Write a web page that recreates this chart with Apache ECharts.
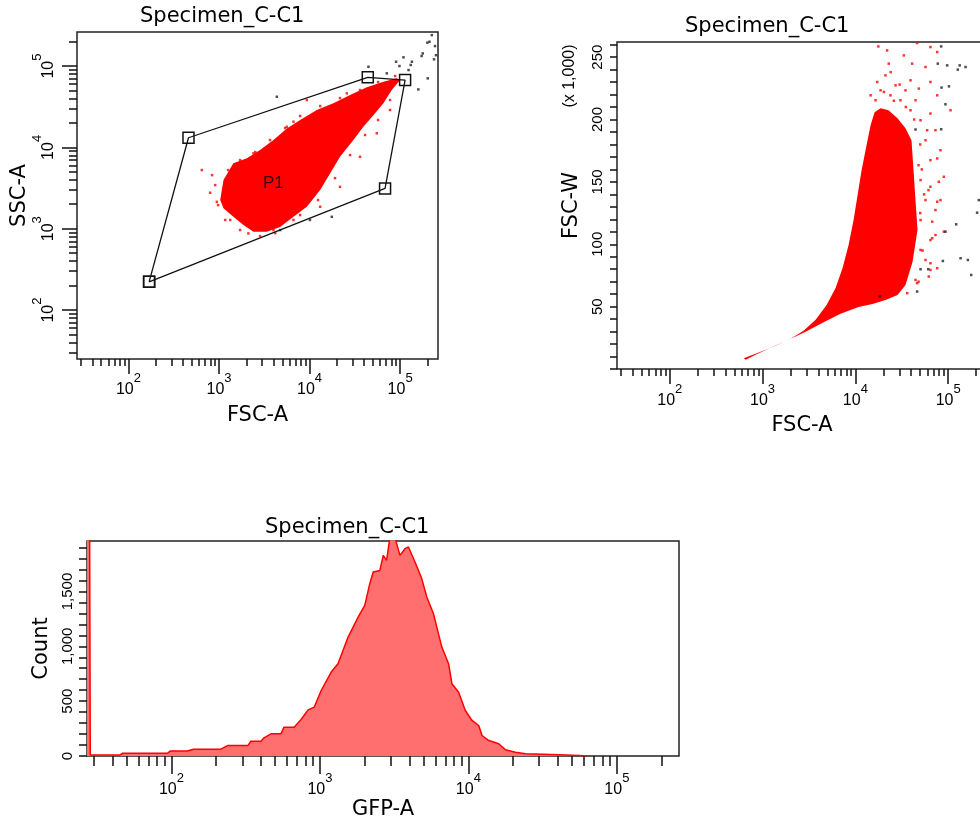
<!DOCTYPE html>
<html>
<head>
<meta charset="utf-8">
<title>Specimen_C-C1</title>
<script src="https://cdn.jsdelivr.net/npm/echarts@6.0.0/dist/echarts.min.js"></script>
<style>
  html, body { margin: 0; padding: 0; background: #fff; }
  #chart-facs { width: 980px; height: 825px; }
</style>
</head>
<body>
<div id="chart-facs"></div>
<script>
// ============================================================
// 数据
// ============================================================

var TITLE_TEXT = 'Specimen_C-C1';

// 对数轴范围与刻度
var LOG_MIN_X = 27;
var LOG_MIN_Y = 25;
var LOG_MAX = 262144;
var DECADE_TICKS = [100, 1000, 10000, 100000];
var MINOR_TICKS = [30, 40, 50, 60, 70, 80, 90,
  200, 300, 400, 500, 600, 700, 800, 900,
  2000, 3000, 4000, 5000, 6000, 7000, 8000, 9000,
  20000, 30000, 40000, 50000, 60000, 70000, 80000, 90000,
  200000];

// 图1：FSC-A vs SSC-A，P1 门
var GATE_X = [169, 460, 43950, 113500, 68200, 169];
var GATE_Y = [222, 13130, 72600, 67270, 3130, 222];
var P1_POS = [3980, 3640];

// 图1 密集点云轮廓
var CLOUD1_X = [1030, 1120, 1440, 2030, 2840, 3990, 5610, 7870, 12000, 18300, 28000, 42900, 65400, 91900, 100000,
  80900, 65400, 50700, 39300, 30500, 21700, 16900, 13100, 9330, 6640, 4730, 3370, 2400, 1860, 1440, 1120];
var CLOUD1_Y = [2250, 3960, 6360, 7330, 9270, 12300, 17100, 21700, 28800, 34800, 44000, 54700, 64100, 70600, 67300,
  50700, 34800, 24900, 17900, 12300, 7660, 4790, 2990, 1860, 1400, 1050, 916, 916, 1110, 1400, 1780];

// 图1 稀疏红点 / 门外黑点
var RED1_X = [646, 798, 946, 1330, 2110, 3100, 2400, 5610, 6640, 9330, 25800, 55300, 36100, 21700, 13100, 6640, 3990, 77400, 71300, 88100,
  906, 839, 977, 1260, 1710, 2510, 3660, 5370, 7870, 13100, 21700, 36100, 57100, 77400, 57100, 41000, 28000, 19100, 12400, 7870,
  4170, 2840, 1710, 1170];
var RED1_Y = [5260, 2770, 2140, 1280, 875, 7660, 8440, 17900, 20700, 38200, 46100, 14900, 7660, 3270, 1860, 1280, 962, 28800, 55600, 75300,
  3440, 4560, 1950, 5260, 6980, 8750, 12300, 17300, 24300, 32200, 40400, 50700, 63500, 38200, 21700, 14200, 8030, 4190, 2250, 1470,
  883, 811, 962, 1280];
var BLACK1_X = [224000, 211000, 243000, 200000, 178000, 249000, 237000, 173000, 135000, 109000, 90300, 98300, 131000,
  202000, 159000, 124000, 44700, 4350, 4730, 10100, 17600, 71300];
var BLACK1_Y = [240000, 199000, 176000, 194000, 143000, 136000, 121000, 133000, 113000, 128000, 113000, 100000, 103000,
  70600, 51600, 89300, 98000, 41900, 962, 1280, 1400, 81300];

// 图2：FSC-A vs FSC-W（单位 x 1,000）
var FSCW_MAX = 262.144;
var CLOUD2_X = [627, 955, 1385, 2006, 2767, 3730, 4900, 6120, 7280, 8450, 9570, 10570, 11670, 13200, 14590, 16110,
  18670, 22760, 28450, 34690, 40260, 42350, 44460, 46760, 41300, 34690, 28450, 21130, 15310, 10820, 6930, 4440,
  2910, 1910, 1220, 843, 658];
var CLOUD2_Y = [8.6, 13.8, 18.6, 24.2, 30.6, 39.4, 51.4, 65.0, 81.0, 99.4, 119.4, 139.4, 159.4, 179.4, 195.4, 205.8,
  209.0, 207.4, 201.0, 193.0, 183.4, 159.4, 135.4, 111.4, 85.8, 67.4, 59.4, 55.4, 52.2, 49.8, 44.2, 37.0,
  29.8, 23.4, 17.0, 11.4, 7.4];
var RED2_X = [17700, 46300, 22000, 33300, 64400, 76200, 22900, 40900, 57000, 17200, 39300, 64400, 20300, 48300, 76200,
  106000, 64400, 59400, 76200, 89800, 79300, 64400, 76200, 67300, 89800, 67300, 64400, 76200, 61800, 36200, 46300,
  24000, 30000, 26000, 35000, 43000, 50000, 52000, 55000, 50000, 53000, 48000,
  50400, 57000, 64400, 50400, 57000, 50400, 64400, 57000, 44500, 73000, 73000, 82600, 39300, 44500, 34700, 30600,
  27100, 23900, 21100, 18700, 16500, 14600, 64400, 50400, 73000, 61400, 47900, 82600];
var RED2_Y = [258.6, 261.3, 255.4, 251.4, 258.1, 254.1, 244.8, 244.8, 242.1, 230.1, 231.4, 230.1, 222.1, 224.8, 219.4,
  207.4, 204.8, 191.4, 168.8, 154.1, 150.1, 146.1, 134.1, 118.1, 110.1, 104.8, 84.8, 80.8, 74.1, 60.8, 68.8,
  238, 228, 215, 210, 200, 180, 160, 140, 125, 95, 70,
  199.4, 183.4, 167.4, 151.4, 135.4, 119.4, 103.4, 87.4, 71.4, 127.4, 191.4, 175.4, 207.4, 215.4, 223.4, 215.4,
  227.4, 219.4, 235.4, 223.4, 215.4, 219.4, 79.4, 95.4, 107.4, 143.4, 163.4, 135.4];
var BLACK2_X = [84100, 77300, 97500, 133000, 154000, 127000, 84800, 102000, 93500, 84100, 44500, 205000, 122000,
  93500, 87700, 136000, 163000, 177000, 50400, 61000, 46300, 18400, 214000];
var BLACK2_Y = [258.6, 244.8, 243.4, 243.4, 242.1, 240, 225.6, 226.6, 212.2, 192.2, 192, 125.3, 116,
  110.1, 86.6, 88.8, 87.4, 75.4, 80, 80, 62.1, 58.1, 135.4];

// 图3：GFP-A 直方图
var COUNT_MAX = 1960;
var HIST_X = [27, 28, 28.4, 45, 47, 94, 98, 128, 141, 215, 239, 327, 343, 401, 420, 468, 547, 573, 670, 747,
  833, 915, 1020, 1192, 1324, 1548, 1809, 2005, 2167, 2285, 2534, 2672, 2813, 2960, 3202, 3462, 3743, 3946, 4369, 4851,
  5245, 5821, 6128, 6626, 7355, 7745, 8596, 9535, 10580, 11738, 12362, 13715, 16024, 17776, 20777, 24283, 40840, 55800, 63500];
var HIST_Y = [3000, 3000, 10, 10, 25, 25, 45, 45, 62, 62, 95, 95, 135, 135, 166, 202, 202, 263, 263, 333,
  420, 445, 597, 765, 841, 1084, 1266, 1373, 1571, 1677, 1692, 1829, 1784, 1990, 1990, 1829, 1890, 1905, 1768, 1617,
  1449, 1297, 1175, 993, 841, 659, 582, 415, 324, 278, 187, 141, 111, 57, 35, 20, 11, 5, 0];

// ============================================================
// 样式
// ============================================================

var FONT_TEXT = 'DejaVu Sans';
var FONT_TICK = 'Liberation Sans';
var INK = '#111';
var RED = '#ff0000';

var TITLE_STYLE = { fontFamily: FONT_TEXT, fontSize: 21, fontWeight: 'normal', color: '#000' };
var NAME_STYLE = { fontFamily: FONT_TEXT, fontSize: 21, color: '#000' };
var TICK_LABEL = { fontFamily: FONT_TICK, fontSize: 15, color: '#000' };

var DECADE_RICH = {
  b: { fontFamily: FONT_TICK, fontSize: 16, lineHeight: 36, color: '#000' },
  s: { fontFamily: FONT_TICK, fontSize: 13, lineHeight: 13, verticalAlign: 'top', color: '#000' }
};

function decadeLabel(value) {
  var p = Math.round(Math.log10(value));
  return '{b|10}{s|' + p + '}';
}

function zip(xs, ys) {
  return xs.map(function(x, i) { return [x, ys[i]]; });
}

// 一对对数轴：短刻度 + 十进位长刻度（带标签和轴名）
function logAxisPair(gridIndex, min, cfg) {
  var base = {
    type: 'log', logBase: 10, gridIndex: gridIndex, min: min, max: LOG_MAX, position: cfg.position,
    axisLine: { show: false }, splitLine: { show: false }, minorTick: { show: false }
  };
  var minor = Object.assign({}, base, {
    axisTick: { show: true, customValues: MINOR_TICKS, length: cfg.minorLen, lineStyle: { color: INK, width: 1.5 } },
    axisLabel: { show: false }
  });
  var major = Object.assign({}, base, {
    axisTick: { show: true, customValues: DECADE_TICKS, length: cfg.majorLen, lineStyle: { color: INK, width: 1.5 } },
    axisLabel: {
      show: true, customValues: DECADE_TICKS, formatter: decadeLabel, rich: DECADE_RICH,
      fontFamily: FONT_TICK, fontSize: 16, margin: cfg.margin, rotate: cfg.rotate || 0
    },
    name: cfg.name, nameLocation: 'middle', nameGap: cfg.nameGap, nameTextStyle: NAME_STYLE
  });
  return [minor, major];
}

function thousands(v) {
  return String(v).replace(/\B(?=(\d{3})+(?!\d))/g, ',');
}

function cloudSeries(xIndex, yIndex, xs, ys) {
  return {
    type: 'custom', xAxisIndex: xIndex, yAxisIndex: yIndex, silent: true, z: 2,
    data: [[xs[0], ys[0]]],
    renderItem: function(params, api) {
      var points = xs.map(function(x, i) { return api.coord([x, ys[i]]); });
      return { type: 'polygon', shape: { points: points }, style: { fill: RED } };
    }
  };
}

function dotSeries(xIndex, yIndex, xs, ys, color) {
  return {
    type: 'scatter', xAxisIndex: xIndex, yAxisIndex: yIndex, silent: true, z: 3,
    symbol: 'rect', symbolSize: 2.5, data: zip(xs, ys), itemStyle: { color: color }
  };
}

// ============================================================
// 图表
// ============================================================

var gridBase = { show: true, borderColor: '#222', borderWidth: 1.5, backgroundColor: '#fff', outerBoundsMode: 'none' };

var xAxes = []
  .concat(logAxisPair(0, LOG_MIN_X, { position: 'bottom', minorLen: 7, majorLen: 15, margin: 13, name: 'FSC-A', nameGap: 46 }))
  .concat(logAxisPair(1, LOG_MIN_X, { position: 'bottom', minorLen: 7, majorLen: 15, margin: 14, name: 'FSC-A', nameGap: 46 }))
  .concat(logAxisPair(2, LOG_MIN_X, { position: 'bottom', minorLen: 10, majorLen: 18, margin: 16, name: 'GFP-A', nameGap: 40 }));

var yAxes = []
  .concat(logAxisPair(0, LOG_MIN_Y, { position: 'left', minorLen: 8, majorLen: 15, margin: 10, rotate: 90, name: 'SSC-A', nameGap: 45 }))
  .concat([
    {
      type: 'value', gridIndex: 1, min: 0, max: FSCW_MAX, interval: 10, position: 'left',
      axisLine: { show: false }, splitLine: { show: false },
      axisTick: { show: true, length: 7, lineStyle: { color: INK, width: 1.5 } },
      axisLabel: Object.assign({}, TICK_LABEL, {
        rotate: 90, margin: 12, showMaxLabel: false,
        formatter: function(v) { return (v > 0 && v % 50 === 0) ? String(v) : ''; }
      }),
      name: 'FSC-W', nameLocation: 'middle', nameGap: 35, nameTextStyle: NAME_STYLE
    },
    {
      type: 'value', gridIndex: 2, min: 0, max: COUNT_MAX, interval: 100, position: 'left',
      axisLine: { show: false }, splitLine: { show: false },
      axisTick: { show: true, length: 8, lineStyle: { color: INK, width: 1.5 } },
      axisLabel: Object.assign({}, TICK_LABEL, {
        rotate: 90, margin: 12, showMaxLabel: false,
        formatter: function(v) { return v % 500 === 0 ? thousands(v) : ''; }
      }),
      name: 'Count', nameLocation: 'middle', nameGap: 34, nameTextStyle: NAME_STYLE
    }
  ]);

var chart = echarts.init(document.getElementById('chart-facs'), null, { renderer: 'canvas' });

chart.setOption({
  animation: false,
  backgroundColor: '#fff',
  title: [
    { text: TITLE_TEXT, left: 140, top: 6, padding: 0, textStyle: TITLE_STYLE },
    { text: TITLE_TEXT, left: 685, top: 16, padding: 0, textStyle: TITLE_STYLE },
    { text: TITLE_TEXT, left: 265, top: 517, padding: 0, textStyle: TITLE_STYLE }
  ],
  grid: [
    Object.assign({ left: 77, top: 32, width: 361, height: 327 }, gridBase),
    Object.assign({ left: 617, top: 42, width: 370, height: 327 }, gridBase),
    Object.assign({ left: 87, top: 541, width: 592, height: 215 }, gridBase)
  ],
  xAxis: xAxes,
  yAxis: yAxes,
  graphic: [
    {
      type: 'text', x: 578, y: 76, rotation: Math.PI / 2, silent: true,
      style: { text: '(x 1,000)', font: '16px "Liberation Sans"', fill: '#000', align: 'center', verticalAlign: 'bottom' }
    }
  ],
  series: [
    // 图1
    cloudSeries(1, 1, CLOUD1_X, CLOUD1_Y),
    dotSeries(1, 1, RED1_X, RED1_Y, RED),
    dotSeries(1, 1, BLACK1_X, BLACK1_Y, '#222'),
    {
      type: 'line', xAxisIndex: 1, yAxisIndex: 1, silent: true, z: 5,
      data: zip(GATE_X, GATE_Y),
      symbol: 'rect', symbolSize: 11, showSymbol: true,
      lineStyle: { color: INK, width: 1.3 },
      itemStyle: { color: 'rgba(255,255,255,0)', borderColor: INK, borderWidth: 1.5 }
    },
    {
      type: 'scatter', xAxisIndex: 1, yAxisIndex: 1, silent: true, z: 6,
      data: [P1_POS], symbolSize: 1, itemStyle: { color: 'rgba(0,0,0,0)' },
      label: { show: true, position: 'inside', formatter: 'P1', fontFamily: FONT_TICK, fontSize: 17, color: '#000' }
    },
    // 图2
    cloudSeries(3, 2, CLOUD2_X, CLOUD2_Y),
    dotSeries(3, 2, RED2_X, RED2_Y, RED),
    dotSeries(3, 2, BLACK2_X, BLACK2_Y, '#222'),
    // 图3
    {
      type: 'line', xAxisIndex: 5, yAxisIndex: 3, silent: true, z: 3,
      data: zip(HIST_X, HIST_Y), symbol: 'none', smooth: false, clip: true,
      lineStyle: { color: RED, width: 1.5 },
      areaStyle: { color: '#ff6f6f', opacity: 1 }
    }
  ]
});
</script>
</body>
</html>
